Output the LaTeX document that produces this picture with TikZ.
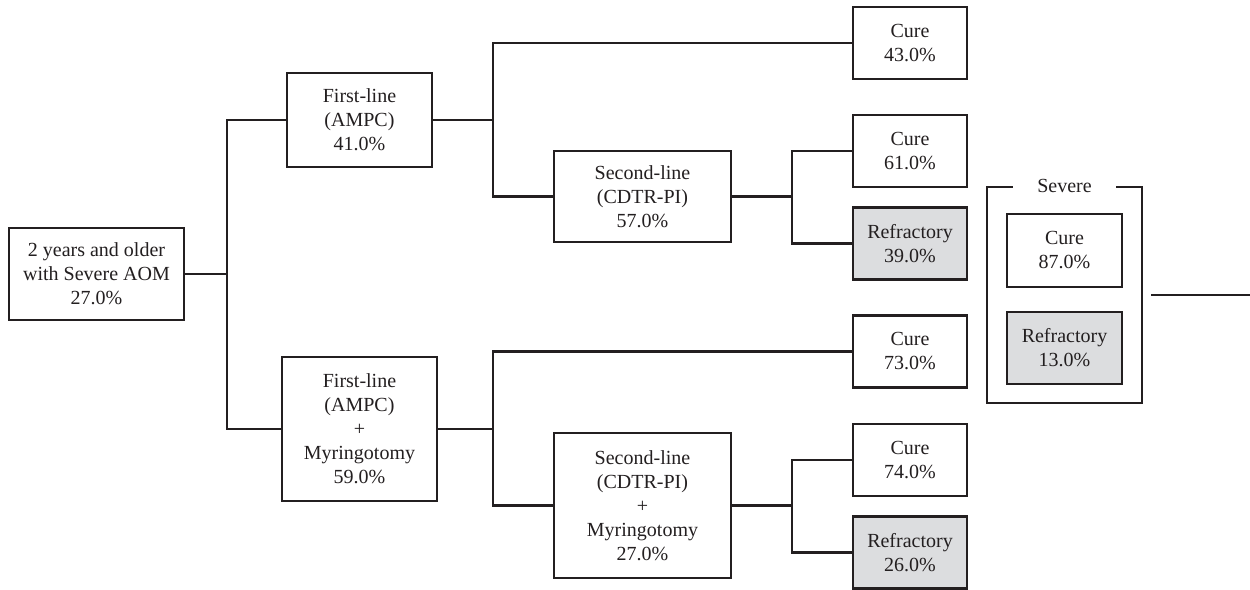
\documentclass[tikz,border=0pt]{standalone}
\usepackage{fontspec}
\setmainfont{Liberation Serif}
\definecolor{ink}{HTML}{231F20}
\definecolor{refill}{HTML}{DCDDDF}
\begin{document}
\begin{tikzpicture}[x=1pt,y=-1pt,
  box/.style={draw=ink,line width=2.8pt,fill=white,align=center,text=ink,
    font=\fontsize{20}{24}\selectfont,inner sep=0pt},
  outcome/.style={box,minimum width=114pt,minimum height=72pt},
  refr/.style={outcome,fill=refill},
  conn/.style={draw=ink,line width=2.8pt}]
\useasboundingbox (0,0) rectangle (1250,589);
% nodes
\node[box,minimum width=175pt,minimum height=92pt] (root) at (96.5,274) {2 years and older\\with Severe AOM\\27.0\%};
\node[box,minimum width=145pt,minimum height=94pt] (fa) at (359.5,120) {First-line\\(AMPC)\\41.0\%};
\node[box,minimum width=155pt,minimum height=144pt] (fb) at (359.5,429) {First-line\\(AMPC)\\+\\Myringotomy\\59.0\%};
\node[box,minimum width=177pt,minimum height=91pt] (sa) at (642.5,196.5) {Second-line\\(CDTR-PI)\\57.0\%};
\node[box,minimum width=177pt,minimum height=145pt] (sb) at (642.5,505.5) {Second-line\\(CDTR-PI)\\+\\Myringotomy\\27.0\%};
\node[outcome] (c43) at (910,43) {Cure\\43.0\%};
\node[outcome] (c61) at (910,151) {Cure\\61.0\%};
\node[refr] (r39) at (910,243.5) {Refractory\\39.0\%};
\node[outcome] (c73) at (910,351.5) {Cure\\73.0\%};
\node[outcome] (c74) at (910,460) {Cure\\74.0\%};
\node[refr] (r26) at (910,552.5) {Refractory\\26.0\%};
% severe group
\node[draw=ink,line width=2.8pt,minimum width=155pt,minimum height=216pt,inner sep=0pt] (sev) at (1064.5,295) {};
\node[fill=white,minimum width=103pt,inner sep=0pt,text=ink,font=\fontsize{20}{24}\selectfont] (sevlab) at (sev.north) {Severe};
\node[outcome,minimum width=115pt,minimum height=73pt] (c87) at (1064.5,250.5) {Cure\\87.0\%};
\node[refr,minimum width=115pt] (r13) at (1064.5,348) {Refractory\\13.0\%};
% junctions
\coordinate (j1) at (227,274);
\coordinate (j2) at (493,120);
\coordinate (j3) at (493,429);
\coordinate (j4) at (792,196.5);
\coordinate (j5) at (792,505.5);
\coordinate (l1) at (1151,295);
\coordinate (l2) at (1250,295);
% connectors
\draw[conn] (root.east) -- (j1);
\draw[conn] (fa.west) -| (j1) |- (fb.west);
\draw[conn] (fa.east) -- (j2);
\draw[conn] (c43.west) -| (j2) |- (sa.west);
\draw[conn] (fb.east) -- (j3);
\draw[conn] (c73.west) -| (j3) |- (sb.west);
\draw[conn] (sa.east) -- (j4);
\draw[conn] (c61.west) -| (j4) |- (r39.west);
\draw[conn] (sb.east) -- (j5);
\draw[conn] (c74.west) -| (j5) |- (r26.west);
\draw[conn] (l1) -- (l2);
\end{tikzpicture}
\end{document}
